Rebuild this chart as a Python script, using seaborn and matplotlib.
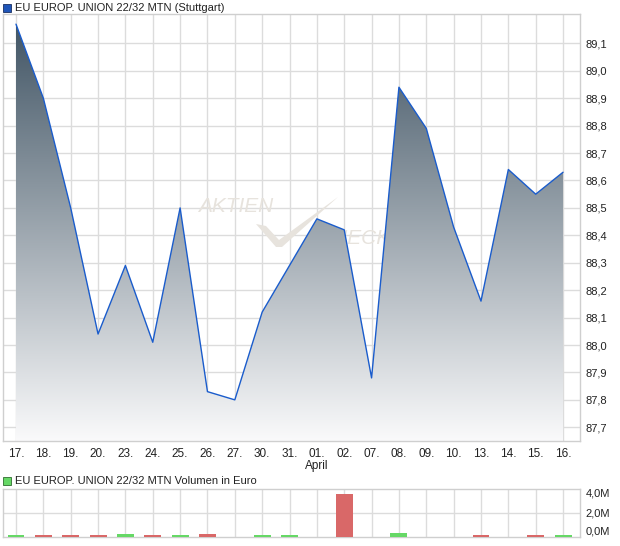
import seaborn as sns
import numpy as np
import matplotlib.pyplot as plt
from matplotlib.colors import LinearSegmentedColormap
from matplotlib.patches import Polygon, Rectangle
import matplotlib.transforms as mtransforms

# price + volume chart, EU bond Stuttgart
days = ['17.', '18.', '19.', '20.', '23.', '24.', '25.', '26.', '27.', '30.', '31.',
        '01.', '02.', '07.', '08.', '09.', '10.', '13.', '14.', '15.', '16.']
price = [89.17, 88.90, 88.50, 88.04, 88.29, 88.01, 88.50, 87.83, 87.80, 88.12, 88.29,
         88.46, 88.42, 87.88, 88.94, 88.79, 88.43, 88.16, 88.64, 88.55, 88.63]
volume = [0.1, 0.1, 0.1, 0.1, 0.2, 0.1, 0.1, 0.2, 0.0, 0.1, 0.1,
          0.0, 3.55, 0.0, 0.3, 0.0, 0.0, 0.1, 0.0, 0.1, 0.1]  # in Mio. Euro
direction = ['up', 'down', 'down', 'down', 'up', 'down', 'up', 'down', 'none', 'up', 'up',
             'none', 'down', 'none', 'up', 'none', 'none', 'down', 'none', 'down', 'up']
price_ticks = [87.7, 87.8, 87.9, 88.0, 88.1, 88.2, 88.3, 88.4, 88.5, 88.6, 88.7, 88.8, 88.9, 89.0, 89.1]
vol_ticks = [0, 2, 4]

sns.set_style('white')
plt.rcParams['font.family'] = ['Liberation Sans', 'DejaVu Sans']
plt.rcParams['font.size'] = 8

fig = plt.figure(figsize=(6.2, 5.46), dpi=100)
W, H = 620, 546
ax = fig.add_axes([3 / W, 1 - 441 / H, 577 / W, 427 / H])
axv = fig.add_axes([3 / W, 1 - 536.5 / H, 577 / W, 47.5 / H])

x = np.arange(len(days))
xlim = (-0.475, 20.62)
grid_c = '#dcdcdc'
frame_c = '#cfcfcf'
wm_c = '#e7e3dd'


def px(xp, yp):
    # figure pixel -> axes fraction of the main chart
    return ((xp - 3) / 577, (441 - yp) / 427)


# main chart
ax.set_xlim(*xlim)
ax.set_ylim(87.65, 89.207)
for p in price_ticks:
    ax.axhline(p, color=grid_c, lw=1, zorder=0)
for i in x:
    ax.axvline(i, color=grid_c, lw=1, zorder=0)

# watermark
ax.text(*px(236, 206), 'AKTIEN', transform=ax.transAxes, fontsize=15, style='italic',
        color=wm_c, ha='center', va='center', zorder=0.5)
ax.text(*px(354, 239), 'CHECK', transform=ax.transAxes, fontsize=15, style='italic',
        color=wm_c, ha='center', va='center', zorder=0.5)
ax.add_patch(Polygon([px(256, 224), px(266, 226), px(279, 240), px(338, 197),
                      px(282, 247), px(276, 247)], closed=True, transform=ax.transAxes,
                     facecolor=wm_c, edgecolor='none', zorder=0.5))

cmap = LinearSegmentedColormap.from_list('fill', ['#3e5262', '#fafafb'])
grad = np.linspace(0, 1, 256).reshape(-1, 1)
img = ax.imshow(grad, cmap=cmap, aspect='auto', extent=[xlim[0], xlim[1], 87.65, 89.207],
                origin='upper', zorder=1)
poly = Polygon(list(zip(x, price)) + [(x[-1], 87.65), (x[0], 87.65)], closed=True,
               transform=ax.transData, facecolor='none', edgecolor='none')
ax.add_patch(poly)
img.set_clip_path(poly)

sns.lineplot(x=x, y=price, ax=ax, color='#1a5ccc', lw=1.0, zorder=3)

ax.yaxis.tick_right()
ax.set_yticks(price_ticks)
ax.set_yticklabels([f'{p:.1f}'.replace('.', ',') for p in price_ticks], color='#222222')
ax.set_xticks(x)
ax.set_xticklabels(days, color='#222222', fontsize=8.5)
ax.tick_params(length=0, pad=4)
ax.tick_params(axis='x', pad=5)
ax.set_xlabel('')
ax.set_ylabel('')
for s in ax.spines.values():
    s.set_color(frame_c)
    s.set_linewidth(1)
    s.set_visible(True)
ax.text(11, -0.058, 'April', transform=mtransforms.blended_transform_factory(ax.transData, ax.transAxes),
        ha='center', va='center', fontsize=8.5, color='#222222')

# legend texts
fig.patches.append(Rectangle((3 / W, 1 - 12 / H), 8 / W, 8 / H, transform=fig.transFigure,
                             facecolor='#1f55b8', edgecolor='#1a2f60', lw=0.6))
fig.text(15 / W, 1 - 8 / H, 'EU EUROP. UNION 22/32 MTN (Stuttgart)', fontsize=8,
         va='center', ha='left', color='#222222')
fig.patches.append(Rectangle((3 / W, 1 - 485 / H), 8 / W, 8 / H, transform=fig.transFigure,
                             facecolor='#66d866', edgecolor='#2f6e2f', lw=0.6))
fig.text(15 / W, 1 - 481 / H, 'EU EUROP. UNION 22/32 MTN Volumen in Euro', fontsize=8,
         va='center', ha='left', color='#222222')

# volume chart
for i in x:
    axv.axvline(i, color=grid_c, lw=1, zorder=0)
axv.axhline(2, color=grid_c, lw=1, zorder=0)
sns.barplot(x=x, y=volume, hue=direction, ax=axv, order=list(x), dodge=False, width=0.62,
            palette={'up': '#66d866', 'down': '#d96868', 'none': '#ffffff'}, legend=False,
            saturation=1, zorder=3)
for bar in axv.patches:
    bar.set_zorder(3)
    bar.set_linewidth(0)
axv.set_xlim(*xlim)
axv.set_ylim(0, 4)
axv.yaxis.tick_right()
axv.set_yticks(vol_ticks)
axv.set_yticklabels(['0,0M', '2,0M', '4,0M'], color='#222222')
labs = axv.get_yticklabels()
labs[0].set_va('bottom')
labs[2].set_va('top')
axv.set_xticks([])
axv.tick_params(length=0, pad=4)
axv.set_xlabel('')
axv.set_ylabel('')
for s in axv.spines.values():
    s.set_color(frame_c)
    s.set_linewidth(1)
    s.set_visible(True)
    s.set_zorder(1)

fig.savefig('out.png', dpi=100)
